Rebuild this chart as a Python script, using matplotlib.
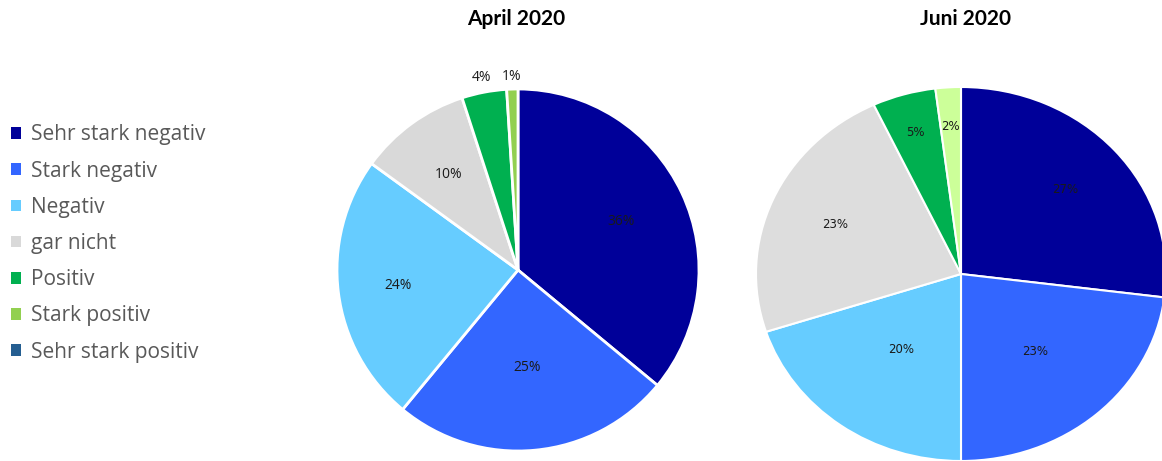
import matplotlib.pyplot as plt
from matplotlib.patches import Patch
import numpy as np

plt.rcParams['font.family'] = ['Lato', 'DejaVu Sans']

categories = ['Sehr stark negativ', 'Stark negativ', 'Negativ', 'gar nicht',
              'Positiv', 'Stark positiv', 'Sehr stark positiv']
april_values = [36, 25, 24, 10, 4, 1]
juni_values = [27, 23, 20, 23, 5, 2]
titles = ['April 2020', 'Juni 2020']

legend_colors = ['#000099', '#3366FF', '#66CCFF', '#D9D9D9', '#00B050', '#92D050', '#255E91']
april_colors = ['#000099', '#3366FF', '#66CCFF', '#D9D9D9', '#00B050', '#92D050']
juni_colors = ['#000099', '#3366FF', '#66CCFF', '#DDDDDD', '#00B050', '#CCFF99']

W, H = 1162, 461
fig = plt.figure(figsize=(W / 100, H / 100), dpi=100)


def px_axes(x0, y0, x1, y1):
    # pixel box (top-left origin) -> figure axes
    return fig.add_axes([x0 / W, 1 - y1 / H, (x1 - x0) / W, (y1 - y0) / H])


def draw_pie(ax, values, colors, dists, fsize, lw, fam):
    wedges, _ = ax.pie(values, colors=colors, startangle=90, counterclock=False,
                       wedgeprops=dict(edgecolor='white', linewidth=lw))
    ax.set_aspect('auto')
    ax.set_xlim(-1, 1)
    ax.set_ylim(-1, 1)
    ax.axis('off')
    for w, v, d in zip(wedges, values, dists):
        ang = np.deg2rad((w.theta1 + w.theta2) / 2)
        ax.text(d * np.cos(ang), d * np.sin(ang), f'{v}%', ha='center', va='center',
                fontsize=fsize, color='#1a1a1a', family=fam)


# April pie
ax1 = px_axes(337, 89, 699, 451)
draw_pie(ax1, april_values, april_colors, [0.63, 0.54, 0.67, 0.65, 1.08, 1.07], 10,
         2, ['Open Sans', 'DejaVu Sans'])

# Juni pie (etwas breiter als hoch, rechts abgeschnitten)
ax2 = px_axes(756, 87, 1166, 461)
draw_pie(ax2, juni_values, juni_colors, [0.68, 0.55, 0.5, 0.67, 0.79, 0.79], 8.5,
         1.5, ['DejaVu Sans'])

fig.text(516 / W, 1 - 19 / H, titles[0], ha='center', va='center',
         fontsize=15, fontweight='bold', color='black')
fig.text(966 / W, 1 - 19 / H, titles[1], ha='center', va='center',
         fontsize=15, fontweight='bold', color='black')

handles = [Patch(facecolor=c, edgecolor='none') for c in legend_colors]
leg = fig.legend(handles, categories, loc='upper left', bbox_to_anchor=(3 / W, 1 - 116 / H),
                 frameon=False, handlelength=0.48, handleheight=0.48,
                 handletextpad=0.45, labelspacing=0.73, borderaxespad=0,
                 prop=dict(family=['Open Sans', 'DejaVu Sans'], size=15))
for t in leg.get_texts():
    t.set_color('#595959')

fig.savefig('out.png', dpi=100)
